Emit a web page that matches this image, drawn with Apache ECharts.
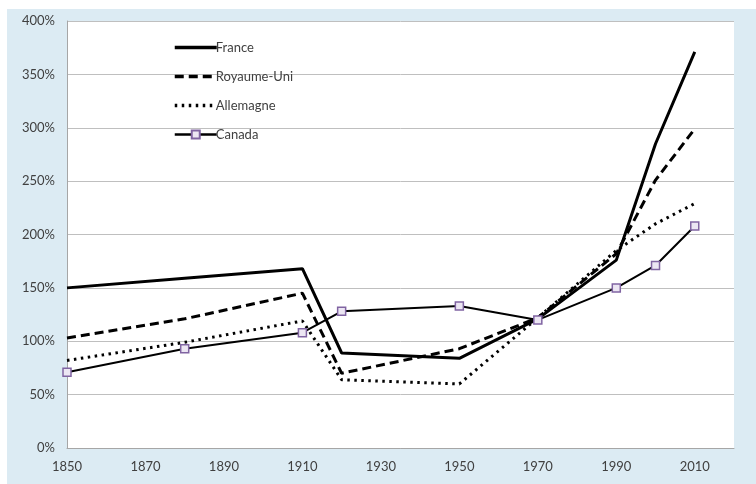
<!doctype html>
<html>
<head>
    <meta charset="utf-8">
    <title>ratio</title>
    <script src="https://cdn.jsdelivr.net/npm/echarts@6/dist/echarts.min.js"></script>
    <style>
        html, body { margin: 0; padding: 0; background: #fff; }
        #container { width: 756px; height: 484px; }
    </style>
</head>
<body>
    <div id="container"></div>
    <script type="text/javascript">
        // années et valeurs (%)
        var years = [1850, 1880, 1910, 1920, 1950, 1970, 1990, 2000, 2010];
        var france = [150, 159, 168, 89, 84, 121, 176, 285, 371];
        var royaumeUni = [103, 121, 145, 70, 93, 122, 182, 251, 299];
        var allemagne = [82, 99, 119, 64, 60, 122, 185, 210, 229];
        var canada = [71, 93, 108, 128, 133, 120, 150, 171, 208];
        var seriesNames = ['France', 'Royaume-Uni', 'Allemagne', 'Canada'];

        function pairs(vals) {
            var out = [];
            for (var i = 0; i < years.length; i++) {
                out.push([years[i], vals[i]]);
            }
            return out;
        }

        var dashes = {
            'France': 'solid',
            'Royaume-Uni': [9, 5],
            'Allemagne': [2.5, 4.5]
        };

        // pas de symbole dans la légende sauf pour le Canada
        var legendData = seriesNames.map(function (n) {
            if (n === 'Canada') return { name: n, lineStyle: { width: 2.5 } };
            return { name: n, itemStyle: { opacity: 0 }, lineStyle: { width: 3.5, type: dashes[n] } };
        });

        var font = 'Lato';
        var option = {
            animation: false,
            graphic: [{
                type: 'rect',
                left: 7, top: 9,
                shape: { width: 749, height: 475 },
                style: { fill: '#dcebf3' },
                z: -10
            }],
            grid: {
                left: 67, right: 22, top: 21, bottom: 36,
                show: true,
                backgroundColor: '#fff',
                borderWidth: 0
            },
            legend: {
                orient: 'vertical',
                left: 168, top: 36,
                itemWidth: 42, itemHeight: 10,
                itemGap: 16,
                data: legendData,
                textStyle: { fontFamily: font, fontSize: 13, color: '#404040', padding: [0, 0, 0, -6] }
            },
            xAxis: {
                type: 'value',
                min: 1850, max: 2020, interval: 20,
                axisLine: { show: true, lineStyle: { color: '#a6a6a6' } },
                axisTick: { show: false },
                splitLine: { show: false },
                axisLabel: {
                    showMaxLabel: false,
                    formatter: function (v) { return String(v); },
                    color: '#404040', fontFamily: font, fontSize: 13, margin: 12
                }
            },
            yAxis: {
                type: 'value',
                min: 0, max: 400, interval: 50,
                axisLine: { show: true, lineStyle: { color: '#a6a6a6' } },
                axisTick: { show: false },
                splitLine: { lineStyle: { color: '#bfbfbf', width: 1 } },
                axisLabel: {
                    formatter: '{value}%',
                    color: '#404040', fontFamily: font, fontSize: 13, margin: 12
                }
            },
            series: [{
                name: 'France', type: 'line', data: pairs(france),
                symbol: 'none',
                lineStyle: { color: '#000', width: 3 },
                itemStyle: { color: '#000' }
            }, {
                name: 'Royaume-Uni', type: 'line', data: pairs(royaumeUni),
                symbol: 'none',
                lineStyle: { color: '#000', width: 3, type: dashes['Royaume-Uni'] },
                itemStyle: { color: '#000' }
            }, {
                name: 'Allemagne', type: 'line', data: pairs(allemagne),
                symbol: 'none',
                lineStyle: { color: '#000', width: 3, type: dashes['Allemagne'] },
                itemStyle: { color: '#000' }
            }, {
                name: 'Canada', type: 'line', data: pairs(canada),
                symbol: 'rect', symbolSize: 8,
                lineStyle: { color: '#000', width: 2 },
                itemStyle: { color: '#ece6f3', borderColor: '#8064a2', borderWidth: 1.5 }
            }]
        };

        var myChart = echarts.init(document.getElementById('container'));
        myChart.setOption(option);
    </script>
</body>
</html>
